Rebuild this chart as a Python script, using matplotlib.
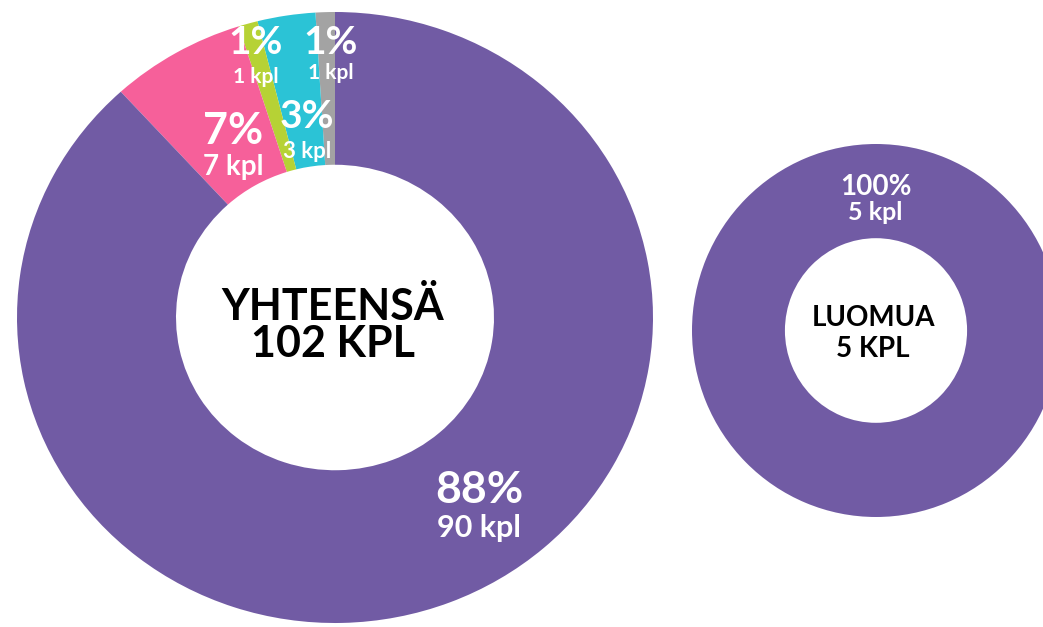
import matplotlib.pyplot as plt

plt.rcParams["font.family"] = ["Lato", "DejaVu Sans"]

# === Data ===
total_counts = [1, 3, 1, 7, 90]          # gray, cyan, green, pink, purple
total_pcts = ["1%", "3%", "1%", "7%", "88%"]
total_colors = ["#a3a3a3", "#2bc3d6", "#b6d235", "#f6609a", "#715ba4"]
organic_counts = [5]
organic_pcts = ["100%"]
organic_colors = ["#715ba4"]

W, H = 1043, 627

fig = plt.figure(figsize=(W / 100, H / 100), dpi=100)


def donut_axes(left, top, width, height):
    # box given in pixels from the top-left corner
    return fig.add_axes([left / W, (H - top - height) / H, width / W, height / H])


# ---------- left donut ----------
ax1 = donut_axes(17, 12, 636, 611)
ax1.pie(total_counts, colors=total_colors, startangle=90, counterclock=True,
        radius=1, wedgeprops=dict(width=0.5, linewidth=0))
ax1.set_xlim(-1, 1)
ax1.set_ylim(-1, 1)
ax1.set_aspect("auto")
ax1.axis("off")

# ---------- right donut ----------
ax2 = donut_axes(692, 144, 368, 373)
ax2.pie(organic_counts, colors=organic_colors, startangle=90,
        radius=1, wedgeprops=dict(width=0.505, linewidth=0))
ax2.set_xlim(-1, 1)
ax2.set_ylim(-1, 1)
ax2.set_aspect("auto")
ax2.axis("off")

# ---------- text overlay (pixel coords) ----------
ax = fig.add_axes([0, 0, 1, 1])
ax.set_xlim(0, W)
ax.set_ylim(H, 0)
ax.axis("off")
ax.patch.set_alpha(0)

# label positions, pct size, kpl size
label_pos = [
    ((331, 43), (331, 73), 28, 15),
    ((307, 117), (307, 152), 28, 16),
    ((256, 43), (256, 77), 28, 15),
    ((233, 131), (233, 167), 31, 20),
    ((479, 490), (479, 528), 32, 22),
]
for cnt, pct, (pp, kp, ps, ks) in zip(total_counts, total_pcts, label_pos):
    ax.text(pp[0], pp[1], pct, color="white", fontsize=ps, fontweight="bold",
            ha="center", va="center")
    ax.text(kp[0], kp[1], f"{cnt} kpl", color="white", fontsize=ks,
            fontweight="bold", ha="center", va="center")

ax.text(333, 307, "YHTEENSÄ", fontsize=31, fontweight="bold",
        ha="center", va="center", color="black")
ax.text(333, 344, f"{sum(total_counts)} KPL", fontsize=31, fontweight="bold",
        ha="center", va="center", color="black")

ax.text(876, 187, organic_pcts[0], color="white", fontsize=20,
        fontweight="bold", ha="center", va="center")
ax.text(875, 212, f"{organic_counts[0]} kpl", color="white", fontsize=18,
        fontweight="bold", ha="center", va="center")
ax.text(873, 318, "LUOMUA", fontsize=20, fontweight="bold",
        ha="center", va="center", color="black")
ax.text(873, 349, f"{sum(organic_counts)} KPL", fontsize=20,
        fontweight="bold", ha="center", va="center", color="black")

fig.savefig("out.png", dpi=100, facecolor="white")
